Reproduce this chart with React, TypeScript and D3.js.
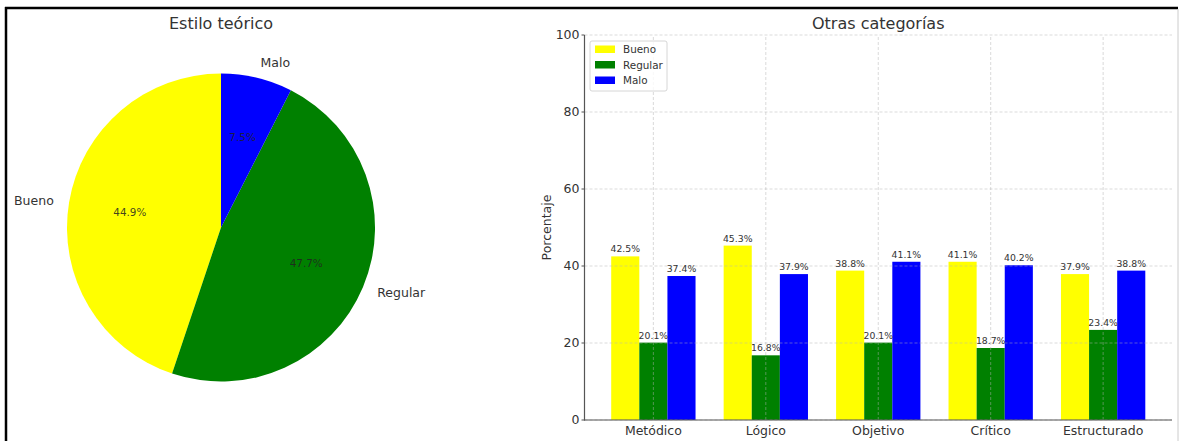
import React from "react";
import * as d3 from "d3";

const pieLabels = ["Bueno", "Regular", "Malo"];
const pieValues = [44.9, 47.7, 7.5];
const pieColors = ["#ffff00", "#008000", "#0000ff"];

const categories = ["Metódico", "Lógico", "Objetivo", "Crítico", "Estructurado"];
const seriesNames = ["Bueno", "Regular", "Malo"];
const bueno = [42.5, 45.3, 38.8, 41.1, 37.9];
const regular = [20.1, 16.8, 20.1, 18.7, 23.4];
const malo = [37.4, 37.9, 41.1, 40.2, 38.8];
const yTicks = [0, 20, 40, 60, 80, 100];

const FONT = "DejaVu Sans, sans-serif";
const TXT = "#333";

export default function App() {
  // Pie
  const cx = 221, cy = 227.5, r = 154;
  const pieGen = d3.pie<number>().sort(null).startAngle(0).endAngle(-2 * Math.PI);
  const arcs = pieGen(pieValues);
  const arcGen = d3.arc<d3.PieArcDatum<number>>().innerRadius(0).outerRadius(r);

  // Bars
  const series = [bueno, regular, malo];
  const bw = 0.25;
  const L = 584.5, R = 1172;
  const x = d3.scaleLinear().domain([-0.6125, 4.6125]).range([L, R]);
  const y = d3.scaleLinear().domain([0, 100]).range([420, 35]);
  const offsets = [-bw, 0, bw];

  return (
    <svg
      width={1179}
      height={441}
      style={{ position: "absolute", left: 0, top: 0, display: "block", background: "#fff" }}
      fontFamily={FONT}
    >
      {/* frame */}
      <line x1={5} y1={8} x2={1178} y2={8} stroke="#000" strokeWidth={2.5} />
      <line x1={6} y1={7} x2={6} y2={441} stroke="#000" strokeWidth={2.5} />
      <line x1={1178} y1={9} x2={1178} y2={441} stroke="#ccc" strokeWidth={1} />

      {/* Pie */}
      <text x={221} y={29} textAnchor="middle" fontSize={16} fill={TXT}>Estilo teórico</text>
      <g transform={`translate(${cx},${cy})`}>
        {arcs.map((a, i) => (
          <path key={i} d={arcGen(a) || ""} fill={pieColors[i]} />
        ))}
        {arcs.map((a, i) => {
          const mid = (a.startAngle + a.endAngle) / 2;
          const lx = Math.sin(mid) * r * 1.1;
          const ly = -Math.cos(mid) * r * 1.1;
          const px = Math.sin(mid) * r * 0.6;
          const py = -Math.cos(mid) * r * 0.6;
          return (
            <g key={"l" + i}>
              <text x={lx} y={ly} dy="0.35em" textAnchor={lx > 0 ? "start" : "end"} fontSize={12.5} fill={TXT}>
                {pieLabels[i]}
              </text>
              <text x={px} y={py} dy="0.35em" textAnchor="middle" fontSize={10.4} fill="#222" fillOpacity={0.85}>
                {pieValues[i].toFixed(1)}%
              </text>
            </g>
          );
        })}
      </g>

      {/* Bar chart */}
      <text x={(L + R) / 2} y={29} textAnchor="middle" fontSize={16} fill={TXT}>Otras categorías</text>

      {series.map((vals, s) =>
        vals.map((v, i) => (
          <rect
            key={`b${s}-${i}`}
            x={x(i + offsets[s] - bw / 2)}
            y={y(v)}
            width={x(bw) - x(0)}
            height={y(0) - y(v)}
            fill={pieColors[s]}
          />
        ))
      )}

      {/* grid */}
      {yTicks.map((t) => (
        <line key={"gy" + t} x1={L} x2={R} y1={y(t)} y2={y(t)} stroke="#b0b0b0" strokeOpacity={0.6} strokeWidth={0.8} strokeDasharray="3,2" />
      ))}
      {categories.map((c, i) => (
        <line key={"gx" + i} x1={x(i)} x2={x(i)} y1={y(0)} y2={y(100)} stroke="#b0b0b0" strokeOpacity={0.6} strokeWidth={0.8} strokeDasharray="3,2" />
      ))}

      {/* value labels */}
      {series.map((vals, s) =>
        vals.map((v, i) => (
          <text
            key={`v${s}-${i}`}
            x={x(i + offsets[s])}
            y={y(v) - 4}
            textAnchor="middle"
            fontSize={9.3}
            fill={TXT}
          >
            {v.toFixed(1)}%
          </text>
        ))
      )}

      {/* axes */}
      <line x1={L} x2={L} y1={35} y2={420.5} stroke="#555" strokeWidth={1.2} />
      <line x1={L - 0.5} x2={R} y1={420} y2={420} stroke="#555" strokeWidth={1.2} />
      {yTicks.map((t) => (
        <g key={"yt" + t}>
          <line x1={L - 3} x2={L} y1={y(t)} y2={y(t)} stroke="#555" strokeWidth={1} />
          <text x={L - 5} y={y(t)} dy="0.35em" textAnchor="end" fontSize={12.5} fill={TXT}>{t}</text>
        </g>
      ))}
      {categories.map((c, i) => (
        <text key={"xt" + i} x={x(i)} y={435} textAnchor="middle" fontSize={12.5} fill={TXT}>{c}</text>
      ))}
      <text transform={`translate(551,${(y(0) + y(100)) / 2}) rotate(-90)`} textAnchor="middle" fontSize={12.5} fill={TXT}>Porcentaje</text>

      {/* legend */}
      <rect x={590} y={41} width={77} height={50} rx={2} fill="#fff" fillOpacity={0.8} stroke="#ccc" strokeWidth={0.8} />
      {seriesNames.map((n, i) => (
        <g key={"lg" + i}>
          <rect x={595} y={45.5 + i * 15.5} width={20} height={7.5} fill={pieColors[i]} />
          <text x={623} y={49.5 + i * 15.5} dy="0.35em" fontSize={10.4} fill={TXT}>{n}</text>
        </g>
      ))}
    </svg>
  );
}
